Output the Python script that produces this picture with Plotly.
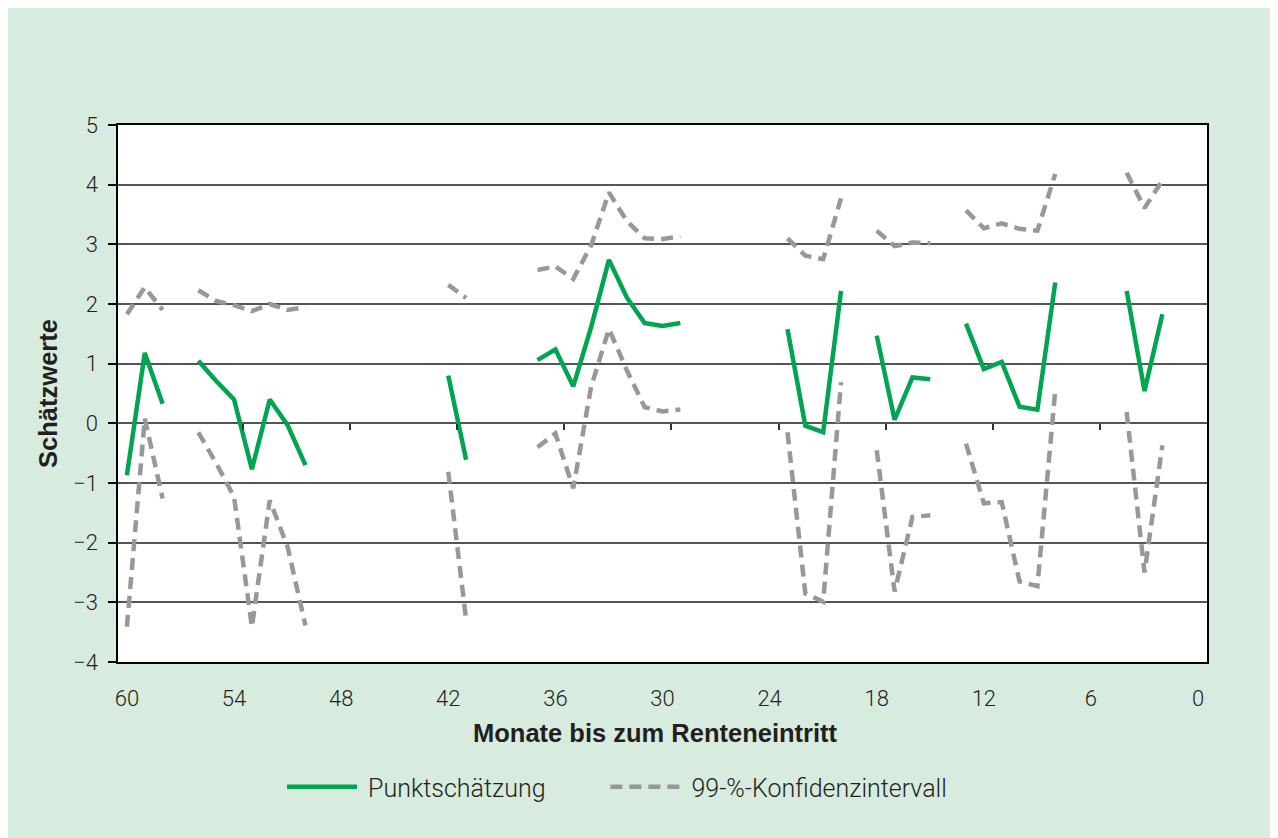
import plotly.graph_objects as go

months = list(range(60, -1, -1))

# Punktschätzung (None = no estimate)
point = [
    -0.87, 1.18, 0.33, None, 1.05, 0.71, 0.40, -0.77, 0.40, -0.03, -0.70,   # 60..50
    None, None, None, None, None, None, None,                              # 49..43
    0.80, -0.61,                                                           # 42..41
    None, None, None,                                                      # 40..38
    1.06, 1.24, 0.62, 1.61, 2.74, 2.11, 1.68, 1.63, 1.68,                  # 37..29
    None, None, None, None, None,                                          # 28..24
    1.58, -0.04, -0.15, 2.22, None,                                        # 23..19
    1.47, 0.06, 0.77, 0.74, None,                                          # 18..14
    1.67, 0.91, 1.03, 0.28, 0.23, 2.36,                                    # 13..8
    None, None, None,                                                      # 7..5
    2.22, 0.54, 1.83, None, None,                                          # 4..0
]

upper = [
    1.83, 2.28, 1.90, None, 2.23, 2.05, 1.98, 1.88, 2.00, 1.90, 1.95,
    None, None, None, None, None, None, None,
    2.32, 2.10,
    None, None, None,
    2.57, 2.63, 2.42, 2.98, 3.87, 3.39, 3.10, 3.09, 3.13,
    None, None, None, None, None,
    3.10, 2.81, 2.75, 3.77, None,
    3.23, 2.97, 3.03, 3.02, None,
    3.57, 3.27, 3.35, 3.26, 3.23, 4.18,
    None, None, None,
    4.20, 3.61, 4.07, None, None,
]

lower = [
    -3.41, 0.08, -1.26, None, -0.15, -0.67, -1.23, -3.41, -1.29, -2.07, -3.39,
    None, None, None, None, None, None, None,
    -0.81, -3.29,
    None, None, None,
    -0.40, -0.17, -1.09, 0.61, 1.58, 0.89, 0.27, 0.20, 0.23,
    None, None, None, None, None,
    -0.15, -2.85, -2.99, 0.69, None,
    -0.45, -2.82, -1.57, -1.54, None,
    -0.34, -1.34, -1.32, -2.65, -2.73, 0.55,
    None, None, None,
    0.19, -2.50, -0.37, None, None,
]

x_tick_vals = [60, 54, 48, 42, 36, 30, 24, 18, 12, 6, 0]
x_minor_ticks = [53.5, 47.5, 41.5, 35.5, 29.5, 23.5, 17.5, 11.5, 5.5]
y_tick_vals = [5, 4, 3, 2, 1, 0, -1, -2, -3, -4]
y_tick_text = ["5", "4", "3", "2", "1", "0", "\u22121", "\u22122", "\u22123", "\u22124"]
x_title = "Monate bis zum Renteneintritt"
y_title = "Schätzwerte"

GREEN = "#00a550"
GRAY = "#97989b"
BG = "#d7ebde"
TXT = "#231f20"
DASH = "12px,7px"
NB = "\u00a0"

fig = go.Figure()

fig.add_trace(go.Scatter(
    x=months, y=point, mode="lines", name=NB + "Punktschätzung" + NB * 9,
    line=dict(color=GREEN, width=4.5), connectgaps=False,
))
fig.add_trace(go.Scatter(
    x=months, y=upper, mode="lines", name=NB + "99-%-Konfidenzintervall",
    line=dict(color=GRAY, width=4.5, dash=DASH), connectgaps=False,
    legendgroup="ci",
))
fig.add_trace(go.Scatter(
    x=months, y=lower, mode="lines", name="99-%-Konfidenzintervall",
    line=dict(color=GRAY, width=4.5, dash=DASH), connectgaps=False,
    legendgroup="ci", showlegend=False,
))
# invisible helper trace so the tick-mark axis on the zero line is drawn
fig.add_trace(go.Scatter(
    x=months, y=point, mode="lines", xaxis="x2", showlegend=False,
    hoverinfo="skip", line=dict(width=0, color="rgba(0,0,0,0)"),
))

# page body adds an 8px offset
W, H = 1278, 838
PL, PT = 110, 117
PR = W - 1199
PB = H - 654
pw = W - PL - PR
ph = H - PT - PB

fig.update_layout(
    width=W, height=H,
    margin=dict(l=PL, r=PR, t=PT, b=PB),
    paper_bgcolor=BG,
    plot_bgcolor="white",
    font=dict(family="Roboto, Liberation Sans, Arial", color=TXT, size=22),
    showlegend=True,
    legend=dict(
        orientation="h", x=(609 - PL) / pw, xanchor="center",
        y=(PT + ph - 779) / ph, yanchor="middle",
        font=dict(size=25, weight=300, color=TXT), bgcolor="rgba(0,0,0,0)",
        itemwidth=70, traceorder="normal",
    ),
    xaxis=dict(
        range=[60.5, -0.5], autorange=False,
        tickvals=x_tick_vals, ticktext=[str(v) for v in x_tick_vals],
        ticks="outside", ticklen=16, tickcolor="rgba(0,0,0,0)",
        showgrid=False, zeroline=False,
        showline=True, linecolor="black", linewidth=1.5, mirror=True,
        tickfont=dict(size=22, weight=300, color=TXT),
    ),
    xaxis2=dict(
        overlaying="x", anchor="free", position=4 / 9,
        range=[60.5, -0.5], autorange=False,
        tickvals=x_minor_ticks, showticklabels=False,
        ticks="outside", ticklen=6, tickwidth=1.5, tickcolor="#333",
        showgrid=False, zeroline=False, showline=False,
    ),
    yaxis=dict(
        range=[-4, 5], autorange=False,
        tickvals=y_tick_vals, ticktext=y_tick_text,
        ticks="outside", ticklen=8, tickwidth=1.5, tickcolor="black",
        ticklabelstandoff=6,
        showgrid=True, gridcolor="#555555", gridwidth=1.5,
        zeroline=False,
        showline=True, linecolor="black", linewidth=1.5, mirror=True,
        tickfont=dict(size=22, weight=300, color=TXT),
        title=dict(text="<b>" + y_title + "</b>",
                   font=dict(size=25.5, color=TXT, family="Liberation Sans, Arial"),
                   standoff=8),
    ),
    annotations=[
        dict(text="<b>" + x_title + "</b>", xref="paper", yref="paper",
             x=(647 - PL) / pw, y=(PT + ph - 725) / ph,
             xanchor="center", yanchor="middle", showarrow=False,
             font=dict(size=25.5, color=TXT, family="Liberation Sans, Arial")),
    ],
)

fig.write_html("out.html")
